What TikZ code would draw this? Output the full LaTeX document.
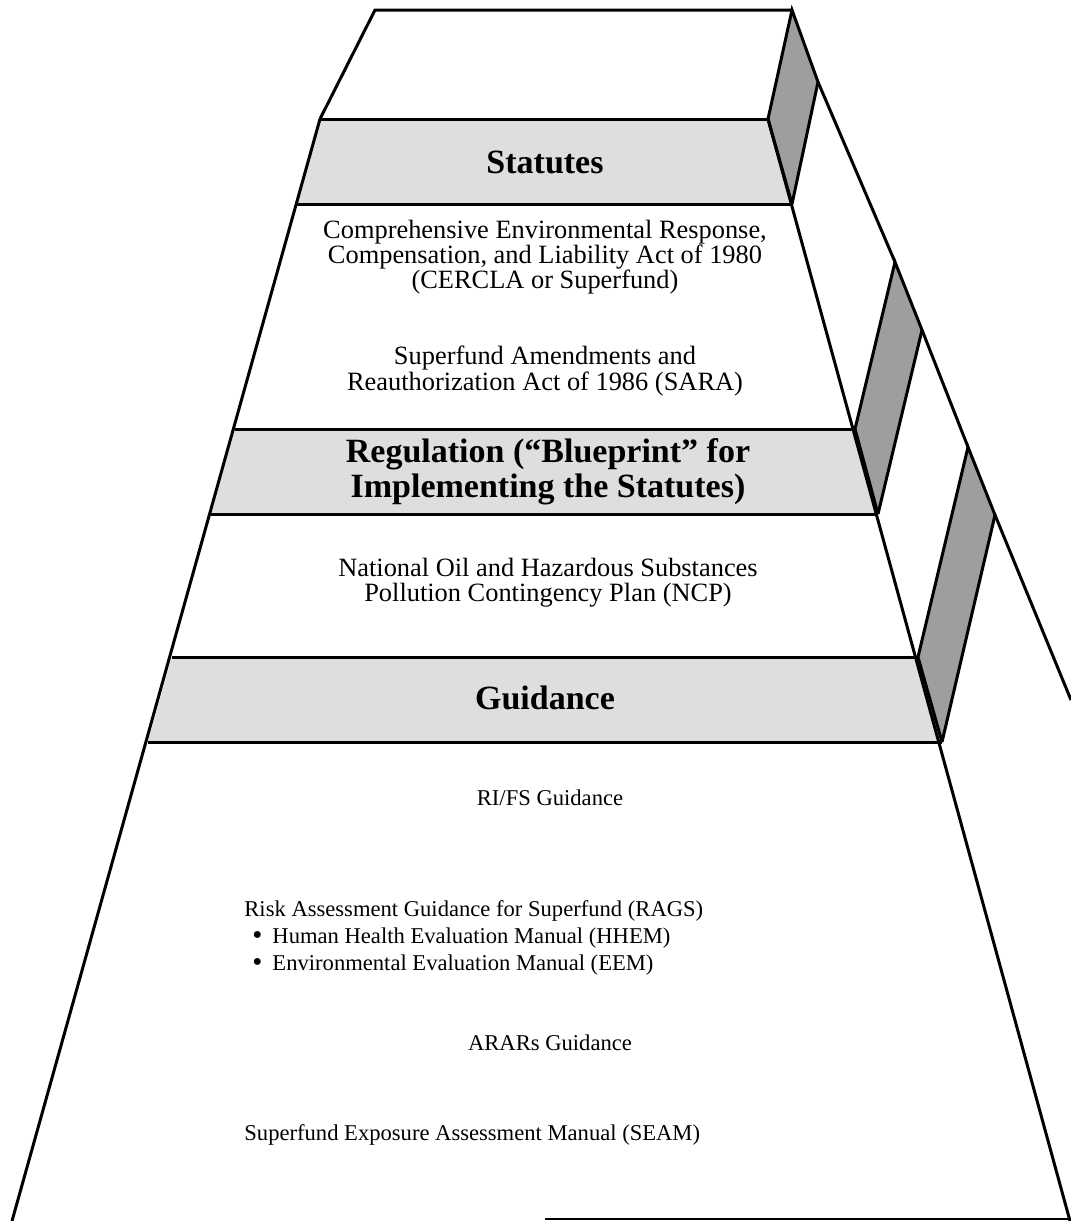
\documentclass[tikz,border=0pt]{standalone}
\usepackage{fontspec}
\setmainfont{Liberation Serif}
\usetikzlibrary{positioning}
\tikzset{
EDGE/.style ={draw=black,line join=miter,line cap=butt,miter limit=4.00,line width=1.5pt},
BAND/.style={fill=black!13},
SIDE/.style={fill=black!38},
HEAD/.style={font=\fontsize{17}{17.5}\selectfont\bfseries, align=center},
BODY/.style={font=\fontsize{13.2}{12.6}\selectfont, align=center},
LOWER/.style={font=\fontsize{11.3}{12.2}\selectfont, align=left, inner sep=0pt},
}
\newcommand{\bigdot}{\hspace{4pt}\smash{\raisebox{-0.6pt}{\Large\textbullet}}\hspace{5pt}}

\begin{document}
\begin{tikzpicture}[x=0.5pt, y=-0.5pt] %pyramid of statutes, regulation, guidance
	\useasboundingbox (0,0) rectangle (1071,1221);
	% corners of the front face
	\coordinate (T1) at (375,10);   \coordinate (T2) at (792,10);
	\coordinate (S1) at (320,119);  \coordinate (S2) at (768,119);
	\coordinate (S3) at (792,204);  \coordinate (S4) at (297,204);
	\coordinate (R1) at (235,429);  \coordinate (R2) at (855,429);
	\coordinate (R3) at (878,514);  \coordinate (R4) at (211,514);
	\coordinate (G1) at (172,657);  \coordinate (G2) at (918,657);
	\coordinate (G3) at (942,742);  \coordinate (G4) at (148,742);
	\coordinate (B1) at (12,1221);  \coordinate (B2) at (1070,1221);
	% corners of the side faces
	\coordinate (P1) at (818,82);   \coordinate (Q2) at (895,262);
	\coordinate (P2) at (922,330);  \coordinate (Q3) at (968,447);
	\coordinate (P3) at (995,515);  \coordinate (E)  at (1071,700);
	% shaded bands
	\path[BAND] (S1) -- (S2) -- (S3) -- (S4) -- cycle;
	\path[BAND] (R1) -- (R2) -- (R3) -- (R4) -- cycle;
	\path[BAND] (G1) -- (G2) -- (G3) -- (G4) -- cycle;
	\path[SIDE,EDGE] (T2) -- (P1) -- (S3) -- (S2) -- cycle;
	\path[SIDE,EDGE] (Q2) -- (P2) -- (R3) -- (R2) -- cycle;
	\path[SIDE,EDGE] (Q3) -- (P3) -- (G3) -- (G2) -- cycle;
	% outline
	\path[EDGE] (S1) -- (T1) -- (T2);
	\path[EDGE] (S1) -- (B1);
	\path[EDGE] (S2) -- (B2);
	\path[EDGE] (S1) -- (S2) (S4) -- (S3);
	\path[EDGE] (R1) -- (R2) (R4) -- (R3);
	\path[EDGE] (G1) -- (G2) (G4) -- (G3);
	\path[EDGE] (P1) -- (Q2) (P2) -- (Q3) (P3) -- (E);
	\path[draw=black,line width=1pt] (545,1219) -- (1071,1219);
	% texts
	\node[HEAD] (statutes) at (545,162) {Statutes};
	\node[BODY] (cercla) at (545,257) {Comprehensive Environmental Response,\\
		Compensation, and Liability Act of 1980\\ (CERCLA or Superfund)};
	\node[BODY] (sara) at (545,371) {Superfund Amendments and\\
		Reauthorization Act of 1986 (SARA)};
	\node[HEAD] (regulation) at (548,472) {Regulation (“Blueprint” for\\
		Implementing the Statutes)};
	\node[BODY] (ncp) at (548,583) {National Oil and Hazardous Substances\\
		Pollution Contingency Plan (NCP)};
	\node[HEAD] (guidance) at (545,698) {Guidance};
	\node[LOWER] (rifs) at (550,798) {RI/FS Guidance};
	\node[LOWER, anchor=base west] (rags) at (244,916) {Risk Assessment Guidance for Superfund (RAGS)};
	\node[LOWER, below=3pt of rags.south west, anchor=north west] (hhem) {\bigdot Human Health Evaluation Manual (HHEM)};
	\node[LOWER, below=3pt of hhem.south west, anchor=north west] (eem) {\bigdot Environmental Evaluation Manual (EEM)};
	\node[LOWER] (arars) at (550,1043) {ARARs Guidance};
	\node[LOWER, anchor=west] (seam) at (244,1135) {Superfund Exposure Assessment Manual (SEAM)};
\end{tikzpicture}
\end{document}
